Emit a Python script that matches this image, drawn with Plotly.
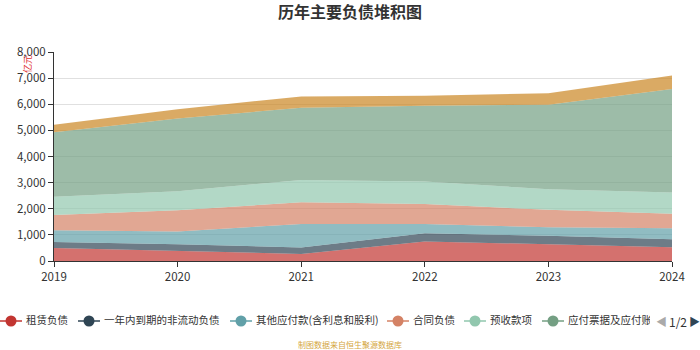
import plotly.graph_objects as go

years = [2019, 2020, 2021, 2022, 2023, 2024]
series_names = ["租赁负债", "一年内到期的非流动负债", "其他应付款(含利息和股利)", "合同负债",
                "预收款项", "应付票据及应付账款", "应付职工薪酬"]
lease = [500, 380, 270, 750, 640, 530]
current_noncurrent = [230, 260, 250, 310, 330, 300]
other_payables = [450, 490, 900, 360, 320, 420]
contract_liab = [580, 810, 830, 760, 670, 560]
advance_recv = [700, 730, 850, 860, 790, 810]
notes_accounts = [2470, 2780, 2770, 2900, 3230, 3960]
staff_pay = [290, 360, 430, 390, 440, 520]
values = [lease, current_noncurrent, other_payables, contract_liab, advance_recv, notes_accounts, staff_pay]
colors = ["#c23531", "#2f4554", "#61a0a8", "#d48265", "#91c7ae", "#749f83", "#ca8622"]
y_ticks = [0, 1000, 2000, 3000, 4000, 5000, 6000, 7000, 8000]

W, H = 700, 350
# plot area in pixels
PL, PR, PT, PB = 54, 672, 52, 261
# legend layout (pixels): start of each legend symbol on page 1
LEG_Y = 321
LEG_STARTS = [0, 78, 230, 387, 464, 542]
LEG_CLIP = 650


def rgba(h, a):
    h = h.lstrip("#")
    r, g, b = int(h[0:2], 16), int(h[2:4], 16), int(h[4:6], 16)
    return f"rgba({r},{g},{b},{a})"


fig = go.Figure()
for name, vals, c in zip(series_names, values, colors):
    fig.add_trace(go.Scatter(
        x=years, y=vals, name=name, mode="lines", stackgroup="one",
        line=dict(width=0, color=c), fillcolor=rgba(c, 0.7), showlegend=False,
        hoverinfo="x+y+name", xaxis="x", yaxis="y"))

# custom legend (first page), clipped like the reference
for name, c, x0 in zip(series_names[:6], colors[:6], LEG_STARTS):
    fig.add_trace(go.Scatter(
        x=[x0, x0 + 22], y=[LEG_Y, LEG_Y], mode="lines", line=dict(color=c, width=1.5),
        xaxis="x2", yaxis="y2", showlegend=False, hoverinfo="skip"))
    fig.add_trace(go.Scatter(
        x=[x0 + 11], y=[LEG_Y], mode="markers", marker=dict(color=c, size=11),
        xaxis="x2", yaxis="y2", showlegend=False, hoverinfo="skip"))
    fig.add_trace(go.Scatter(
        x=[x0 + 26], y=[LEG_Y], mode="text", text=[name], textposition="middle right",
        textfont=dict(size=10.5, color="#333"), cliponaxis=True,
        xaxis="x2", yaxis="y2", showlegend=False, hoverinfo="skip"))

fig.update_layout(
    width=W, height=H,
    margin=dict(l=0, r=0, t=0, b=0, autoexpand=False),
    paper_bgcolor="white", plot_bgcolor="white",
    font=dict(family="Noto Sans CJK SC, sans-serif", color="#333", size=12),
    title=dict(text="<b>历年主要负债堆积图</b>", x=0.5, xanchor="center", y=1 - 12 / H,
               yanchor="middle", font=dict(size=16, color="#333")),
    showlegend=False,
    xaxis=dict(domain=[PL / W, PR / W], range=[2019, 2024], tickvals=years,
               ticktext=[str(y) for y in years], automargin=False,
               showgrid=False, showline=True, linecolor="#333", linewidth=1,
               ticks="outside", ticklen=5, tickcolor="#333", zeroline=False,
               tickfont=dict(size=11.5, color="#333"), anchor="y"),
    yaxis=dict(domain=[(H - PB) / H, (H - PT) / H], range=[0, 8000], tickvals=y_ticks,
               tickformat=",", showgrid=True, gridcolor="#e0e0e0", gridwidth=1,
               showline=True, linecolor="#333", linewidth=1, automargin=False,
               ticks="outside", ticklen=5, tickcolor="#333", zeroline=False,
               tickfont=dict(size=11.5, color="#333"), anchor="x"),
    xaxis2=dict(domain=[0, LEG_CLIP / W], range=[0, LEG_CLIP], visible=False,
                fixedrange=True, anchor="y2", automargin=False),
    yaxis2=dict(domain=[(H - 333) / H, (H - 309) / H], range=[333, 309], visible=False,
                fixedrange=True, anchor="x2", automargin=False),
)


def pxx(p):
    return p / W


def pxy(p):
    return (H - p) / H


def note(text, x, y, **kw):
    fig.add_annotation(text=text, x=pxx(x), y=pxy(y), xref="paper", yref="paper",
                       xanchor="center", yanchor="middle", showarrow=False, **kw)


note("亿元", 28, 64, textangle=-90, font=dict(size=9, color="#e03030"))
note("制图数据来自恒生聚源数据库", 350, 344, font=dict(size=8, color="#d4a640"))
note("◀", 661, 321, font=dict(size=11, color="#aaa"))
note("1/2", 678, 321, font=dict(size=12, color="#333"))
note("▶", 694, 321, font=dict(size=11, color="#2f4554"))

fig.write_html("out.html")
